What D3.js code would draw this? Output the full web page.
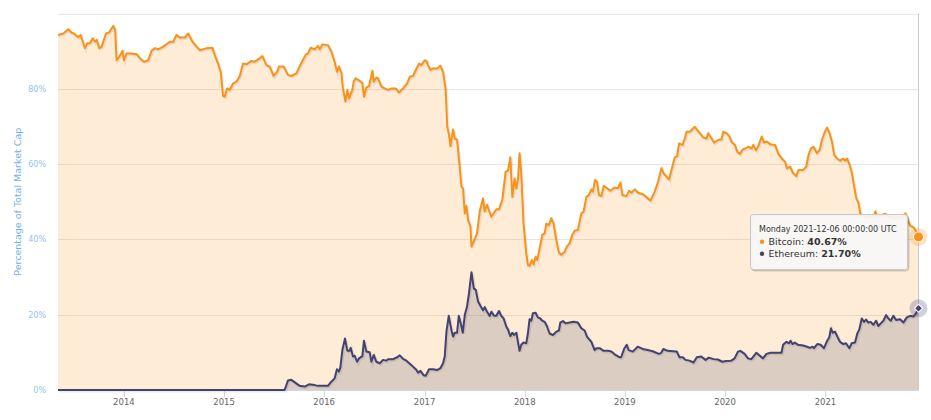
<!DOCTYPE html>
<html>
<head>
<meta charset="utf-8">
<script src="https://cdn.jsdelivr.net/npm/d3@7"></script>
<style>
  body { margin: 0; background: #fff; }
  svg { display: block; font-family: "DejaVu Sans", "Lucida Grande", sans-serif; }
</style>
</head>
<body>
<div id="chart"></div>
<script>
// market cap dominance, [decimal year, percent]
const btcShare = [[2013.342,94.3],[2013.395,94.7],[2013.445,95.8],[2013.479,94.9],[2013.501,94.7],[2013.544,93.7],[2013.568,94.3],[2013.611,90.8],[2013.634,92.1],[2013.661,92.1],[2013.688,93.4],[2013.711,92.5],[2013.728,93.0],[2013.754,90.8],[2013.778,91.2],[2013.821,94.7],[2013.853,95.0],[2013.893,96.7],[2013.913,95.6],[2013.927,87.6],[2013.953,88.5],[2013.987,90.1],[2014.000,87.6],[2014.027,89.4],[2014.077,89.4],[2014.127,89.2],[2014.160,88.1],[2014.199,87.2],[2014.242,87.5],[2014.276,90.1],[2014.309,90.8],[2014.342,90.5],[2014.392,91.2],[2014.459,92.5],[2014.492,92.5],[2014.525,94.3],[2014.558,93.6],[2014.608,93.6],[2014.641,94.7],[2014.685,92.5],[2014.725,91.2],[2014.758,90.3],[2014.791,90.5],[2014.825,90.8],[2014.884,90.9],[2014.907,89.0],[2014.940,86.7],[2014.967,84.5],[2014.990,78.1],[2015.007,77.9],[2015.030,80.1],[2015.057,79.7],[2015.090,81.4],[2015.124,81.9],[2015.157,83.4],[2015.190,86.7],[2015.223,86.5],[2015.273,87.4],[2015.306,87.2],[2015.356,88.1],[2015.383,88.7],[2015.423,86.3],[2015.456,85.9],[2015.496,83.4],[2015.529,84.5],[2015.549,85.9],[2015.595,85.9],[2015.638,83.7],[2015.672,83.4],[2015.722,84.1],[2015.772,86.9],[2015.815,89.0],[2015.838,89.4],[2015.865,90.9],[2015.905,90.5],[2015.938,91.4],[2015.955,90.5],[2015.981,91.8],[2016.037,91.6],[2016.071,89.9],[2016.104,87.2],[2016.127,84.5],[2016.147,85.9],[2016.171,84.3],[2016.187,80.1],[2016.211,76.6],[2016.231,79.7],[2016.247,77.4],[2016.280,79.7],[2016.294,81.9],[2016.313,82.8],[2016.353,82.1],[2016.380,81.6],[2016.396,77.9],[2016.420,80.4],[2016.446,80.7],[2016.480,84.8],[2016.493,81.9],[2016.520,83.0],[2016.536,82.8],[2016.570,80.6],[2016.602,80.1],[2016.636,79.7],[2016.670,80.1],[2016.712,80.1],[2016.745,79.0],[2016.785,80.1],[2016.825,81.4],[2016.852,83.2],[2016.885,83.4],[2016.919,85.4],[2016.945,86.7],[2016.968,86.3],[2017.001,87.6],[2017.018,87.4],[2017.034,86.3],[2017.058,85.0],[2017.084,85.4],[2017.124,85.4],[2017.158,86.1],[2017.184,84.5],[2017.211,79.7],[2017.226,70.0],[2017.244,67.7],[2017.258,64.8],[2017.284,69.2],[2017.301,66.8],[2017.324,66.5],[2017.344,61.1],[2017.368,54.0],[2017.384,53.5],[2017.401,46.9],[2017.418,48.9],[2017.434,45.2],[2017.458,43.4],[2017.468,38.1],[2017.491,39.5],[2017.523,41.6],[2017.550,47.4],[2017.583,50.9],[2017.600,47.4],[2017.623,49.2],[2017.667,46.0],[2017.716,48.0],[2017.742,48.0],[2017.776,50.5],[2017.809,58.0],[2017.832,58.2],[2017.856,61.8],[2017.876,51.3],[2017.899,56.2],[2017.916,53.5],[2017.932,55.8],[2017.948,62.9],[2017.965,57.5],[2017.988,44.2],[2018.015,36.3],[2018.031,33.2],[2018.048,33.0],[2018.071,34.5],[2018.088,33.4],[2018.108,35.4],[2018.125,34.5],[2018.141,36.7],[2018.175,41.2],[2018.198,41.6],[2018.215,44.2],[2018.241,43.8],[2018.265,45.6],[2018.288,44.2],[2018.315,39.8],[2018.341,36.5],[2018.365,35.9],[2018.398,36.7],[2018.421,38.1],[2018.448,39.0],[2018.475,41.2],[2018.498,42.3],[2018.531,42.5],[2018.565,46.9],[2018.588,47.4],[2018.615,51.3],[2018.641,51.8],[2018.665,53.3],[2018.681,52.7],[2018.701,55.8],[2018.721,55.3],[2018.741,51.8],[2018.765,51.5],[2018.788,54.2],[2018.821,53.6],[2018.855,52.9],[2018.898,53.8],[2018.931,53.6],[2018.955,55.1],[2018.975,51.8],[2019.015,51.5],[2019.041,52.9],[2019.065,52.4],[2019.098,53.3],[2019.131,52.4],[2019.181,52.0],[2019.215,51.2],[2019.255,50.3],[2019.298,52.7],[2019.331,55.3],[2019.365,58.9],[2019.388,57.5],[2019.415,56.7],[2019.441,55.9],[2019.465,58.4],[2019.498,61.8],[2019.521,62.1],[2019.541,65.5],[2019.575,65.1],[2019.598,66.8],[2019.615,68.6],[2019.648,68.6],[2019.681,69.5],[2019.698,69.9],[2019.721,69.1],[2019.748,68.2],[2019.781,67.1],[2019.815,66.8],[2019.831,68.2],[2019.865,66.8],[2019.891,65.7],[2019.931,66.4],[2019.965,66.6],[2019.981,68.6],[2020.015,68.2],[2020.041,67.5],[2020.065,65.9],[2020.098,65.1],[2020.121,63.3],[2020.148,62.7],[2020.175,63.9],[2020.208,64.2],[2020.231,64.6],[2020.265,64.2],[2020.281,65.1],[2020.308,63.7],[2020.331,64.8],[2020.365,67.3],[2020.388,65.7],[2020.415,66.0],[2020.448,65.3],[2020.498,65.1],[2020.531,62.7],[2020.565,61.5],[2020.598,60.6],[2020.615,58.9],[2020.648,59.3],[2020.675,57.7],[2020.708,56.8],[2020.731,58.4],[2020.775,58.4],[2020.808,59.3],[2020.831,62.4],[2020.855,64.2],[2020.881,64.6],[2020.915,62.9],[2020.941,63.7],[2020.965,66.4],[2020.988,68.2],[2021.015,69.7],[2021.041,68.2],[2021.065,65.9],[2021.088,62.4],[2021.115,61.5],[2021.148,60.9],[2021.175,61.5],[2021.198,60.9],[2021.215,61.5],[2021.241,59.8],[2021.265,57.5],[2021.281,54.9],[2021.308,50.9],[2021.331,49.6],[2021.348,46.9],[2021.365,46.5],[2021.398,46.0],[2021.431,46.2],[2021.481,45.8],[2021.498,47.4],[2021.521,46.0],[2021.565,46.5],[2021.598,46.8],[2021.631,46.0],[2021.665,45.8],[2021.715,45.8],[2021.765,46.0],[2021.798,46.9],[2021.821,45.2],[2021.848,43.6],[2021.875,43.3],[2021.898,42.5],[2021.929,40.67]];

const ethShare = [[2013.342,0],[2015.605,0],[2015.638,2.5],[2015.672,2.7],[2015.755,1.1],[2015.805,0.9],[2015.848,1.5],[2015.905,1.3],[2015.938,1.1],[2016.037,1.1],[2016.071,2.2],[2016.104,3.1],[2016.127,5.5],[2016.147,4.9],[2016.161,6.0],[2016.181,10.6],[2016.207,13.7],[2016.231,10.4],[2016.254,10.4],[2016.264,11.2],[2016.287,8.9],[2016.304,9.1],[2016.327,7.5],[2016.347,8.4],[2016.380,9.0],[2016.396,13.1],[2016.420,10.2],[2016.453,10.0],[2016.470,7.5],[2016.493,9.3],[2016.520,7.5],[2016.553,7.1],[2016.586,8.0],[2016.620,7.8],[2016.636,8.2],[2016.686,8.2],[2016.726,8.7],[2016.752,9.2],[2016.785,8.3],[2016.819,7.8],[2016.869,6.6],[2016.919,5.3],[2016.935,4.6],[2016.958,5.1],[2016.991,3.9],[2017.011,3.8],[2017.044,5.5],[2017.084,5.5],[2017.124,5.3],[2017.158,5.8],[2017.184,7.1],[2017.201,8.9],[2017.218,15.5],[2017.241,19.7],[2017.268,15.9],[2017.284,14.2],[2017.301,15.2],[2017.324,15.2],[2017.341,19.7],[2017.361,17.7],[2017.381,15.2],[2017.401,19.9],[2017.423,22.1],[2017.443,25.7],[2017.468,31.3],[2017.491,27.0],[2017.511,26.6],[2017.534,23.5],[2017.558,22.3],[2017.583,21.2],[2017.600,22.0],[2017.623,20.8],[2017.650,19.7],[2017.667,20.8],[2017.693,19.7],[2017.716,19.7],[2017.742,21.0],[2017.766,19.7],[2017.789,19.0],[2017.816,16.8],[2017.832,16.1],[2017.856,14.3],[2017.876,15.2],[2017.892,14.6],[2017.916,15.2],[2017.932,12.8],[2017.948,10.4],[2017.965,12.0],[2017.988,12.6],[2018.015,12.4],[2018.031,15.0],[2018.048,18.8],[2018.065,18.4],[2018.081,20.4],[2018.108,20.5],[2018.131,19.3],[2018.155,19.0],[2018.175,18.4],[2018.198,18.1],[2018.221,17.0],[2018.248,15.0],[2018.281,14.6],[2018.315,15.5],[2018.341,15.8],[2018.355,17.9],[2018.381,18.3],[2018.407,17.7],[2018.447,17.9],[2018.487,18.1],[2018.530,17.9],[2018.565,16.4],[2018.598,15.8],[2018.621,14.2],[2018.665,12.8],[2018.698,10.6],[2018.715,11.1],[2018.748,11.1],[2018.788,10.4],[2018.831,10.4],[2018.865,10.2],[2018.905,9.3],[2018.945,8.7],[2018.962,8.7],[2018.995,11.1],[2019.018,12.0],[2019.038,10.6],[2019.078,10.2],[2019.128,11.5],[2019.178,10.9],[2019.228,10.6],[2019.278,10.3],[2019.338,9.6],[2019.361,9.8],[2019.384,10.9],[2019.427,10.4],[2019.478,10.3],[2019.518,10.2],[2019.545,8.7],[2019.578,8.7],[2019.605,8.0],[2019.645,7.8],[2019.685,7.3],[2019.718,8.7],[2019.762,8.9],[2019.805,8.0],[2019.838,8.6],[2019.885,8.2],[2019.928,8.1],[2019.972,7.5],[2020.012,7.7],[2020.062,7.8],[2020.095,8.4],[2020.128,10.2],[2020.152,10.4],[2020.195,9.6],[2020.228,8.4],[2020.262,8.2],[2020.285,9.0],[2020.312,9.9],[2020.338,9.3],[2020.378,8.4],[2020.412,9.6],[2020.452,9.9],[2020.512,9.9],[2020.562,9.9],[2020.578,12.0],[2020.612,12.8],[2020.638,12.4],[2020.652,13.1],[2020.672,12.2],[2020.695,12.6],[2020.728,12.0],[2020.778,11.8],[2020.818,11.5],[2020.845,11.2],[2020.872,11.5],[2020.885,11.1],[2020.918,12.2],[2020.952,12.0],[2020.985,11.1],[2021.012,12.8],[2021.038,14.0],[2021.055,16.4],[2021.072,15.2],[2021.095,15.5],[2021.118,14.2],[2021.145,12.8],[2021.178,12.2],[2021.205,12.4],[2021.238,11.1],[2021.262,12.4],[2021.295,12.6],[2021.318,15.0],[2021.338,16.1],[2021.362,19.0],[2021.385,18.1],[2021.405,18.7],[2021.428,17.9],[2021.452,18.1],[2021.478,17.3],[2021.505,18.4],[2021.528,17.0],[2021.552,17.7],[2021.578,18.4],[2021.605,19.9],[2021.628,19.0],[2021.652,18.4],[2021.678,19.7],[2021.705,18.6],[2021.745,18.8],[2021.778,17.9],[2021.812,19.3],[2021.845,19.7],[2021.878,19.5],[2021.905,20.4],[2021.929,21.70]];

const yearTicks = [2014, 2015, 2016, 2017, 2018, 2019, 2020, 2021];
const gridValues = [0, 20, 40, 60, 80, 100];
const labelValues = [0, 20, 40, 60, 80];
const seriesNames = ["Bitcoin", "Ethereum"];
const seriesColors = ["#f7931a", "#434371"];
const tooltipHeader = "Monday 2021-12-06 00:00:00 UTC";

const width = 931, height = 420;
const plotLeft = 58, plotRight = 918.5, plotTop = 13.5, plotBottom = 390;

// decimal year -> Date (UTC)
function toDate(t) {
    const yr = Math.floor(t);
    const a = Date.UTC(yr, 0, 1), b = Date.UTC(yr + 1, 0, 1);
    return new Date(a + (t - yr) * (b - a));
}

const svg = d3.select("#chart").append("svg")
    .attr("width", width)
    .attr("height", height);

const x = d3.scaleUtc()
    .domain(d3.extent(btcShare, d => toDate(d[0])))
    .range([plotLeft, plotRight]);
const y = d3.scaleLinear().domain([0, 100]).range([plotBottom, plotTop]);

// grid lines
svg.append("g")
    .selectAll("line")
    .data(gridValues)
    .join("line")
    .attr("x1", plotLeft)
    .attr("x2", plotRight)
    .attr("y1", d => Math.round(y(d)) + 0.5)
    .attr("y2", d => Math.round(y(d)) + 0.5)
    .attr("stroke", "#e6e6e6")
    .attr("stroke-width", 1);

// y labels
svg.append("g")
    .selectAll("text")
    .data(labelValues)
    .join("text")
    .attr("x", 46)
    .attr("y", d => y(d))
    .attr("dy", "0.35em")
    .attr("text-anchor", "end")
    .attr("fill", "#93c2f0")
    .style("font-size", "8px")
    .text(d => d + "%");

svg.append("text")
    .attr("transform", `translate(21, ${(plotTop + plotBottom) / 2}) rotate(-90)`)
    .attr("text-anchor", "middle")
    .attr("fill", "#72b0ea")
    .style("font-size", "9.5px")
    .text("Percentage of Total Market Cap");

const series = [btcShare, ethShare];

const area = d3.area()
    .x(d => x(toDate(d[0])))
    .y0(y(0))
    .y1(d => y(d[1]));
const line = d3.line()
    .x(d => x(toDate(d[0])))
    .y(d => y(d[1]));

series.forEach((s, i) => {
    svg.append("path")
        .datum(s)
        .attr("d", area)
        .attr("fill", seriesColors[i])
        .attr("fill-opacity", 0.18);
});

// x axis
const xAxis = svg.append("g")
    .attr("transform", `translate(0, ${plotBottom})`);
xAxis.append("line")
    .attr("x1", plotLeft).attr("x2", plotRight)
    .attr("y1", 0.5).attr("y2", 0.5)
    .attr("stroke", "#ccd6eb");
xAxis.selectAll(".tick")
    .data(yearTicks)
    .join("line")
    .attr("class", "tick")
    .attr("x1", d => Math.round(x(toDate(d))) + 0.5)
    .attr("x2", d => Math.round(x(toDate(d))) + 0.5)
    .attr("y1", 0)
    .attr("y2", 7)
    .attr("stroke", "#ccd6eb");
xAxis.selectAll(".label")
    .data(yearTicks)
    .join("text")
    .attr("class", "label")
    .attr("x", d => x(toDate(d)))
    .attr("y", 15)
    .attr("text-anchor", "middle")
    .attr("fill", "#666")
    .style("font-size", "8.5px")
    .text(d => d);

// crosshair at last point
const last = toDate(btcShare[btcShare.length - 1][0]);
svg.append("line")
    .attr("x1", x(last)).attr("x2", x(last))
    .attr("y1", plotTop).attr("y2", plotBottom)
    .attr("stroke", "#cccccc")
    .attr("stroke-width", 1);

series.forEach((s, i) => {
    svg.append("path")
        .datum(s)
        .attr("d", line)
        .attr("transform", "translate(1,1)")
        .attr("fill", "none")
        .attr("stroke", "#000")
        .attr("stroke-opacity", 0.08)
        .attr("stroke-width", 3);
    svg.append("path")
        .datum(s)
        .attr("d", line)
        .attr("fill", "none")
        .attr("stroke", seriesColors[i])
        .attr("stroke-width", 2)
        .attr("stroke-linejoin", "round");
});

// hover markers on last point
const btcLast = btcShare[btcShare.length - 1];
const ethLast = ethShare[ethShare.length - 1];
const bx = x(toDate(btcLast[0])), by = y(btcLast[1]);
const ex = x(toDate(ethLast[0])), ey = y(ethLast[1]);

svg.append("circle").attr("cx", bx).attr("cy", by).attr("r", 9)
    .attr("fill", seriesColors[0]).attr("fill-opacity", 0.25);
svg.append("circle").attr("cx", bx).attr("cy", by).attr("r", 5)
    .attr("fill", seriesColors[0]).attr("stroke", "#fff").attr("stroke-width", 1);

svg.append("circle").attr("cx", ex).attr("cy", ey).attr("r", 9)
    .attr("fill", seriesColors[1]).attr("fill-opacity", 0.25);
svg.append("path")
    .attr("d", d3.symbol(d3.symbolSquare, 32)())
    .attr("transform", `translate(${ex},${ey}) rotate(45)`)
    .attr("fill", seriesColors[1]).attr("stroke", "#fff").attr("stroke-width", 1);

// tooltip
const tip = svg.append("g").attr("transform", "translate(750.5, 214.5)");
[3, 2, 1].forEach(k => {
    tip.append("rect")
        .attr("x", k * 0.5).attr("y", k * 0.5)
        .attr("width", 157).attr("height", 55).attr("rx", 3)
        .attr("fill", "none")
        .attr("stroke", "#000")
        .attr("stroke-opacity", 0.05 * k)
        .attr("stroke-width", 1);
});
tip.append("rect")
    .attr("width", 157).attr("height", 55).attr("rx", 3)
    .attr("fill", "#f7f7f7")
    .attr("fill-opacity", 0.92)
    .attr("stroke", "#c8c8c8");
tip.append("text")
    .attr("x", 8.5).attr("y", 17)
    .attr("fill", "#333")
    .style("font-size", "8px")
    .text(tooltipHeader);

const rows = [btcLast[1], ethLast[1]];
rows.forEach((v, i) => {
    const ty = 30.5 + i * 12;
    tip.append("circle")
        .attr("cx", 11.5).attr("cy", ty - 3.2).attr("r", 2.2)
        .attr("fill", seriesColors[i]);
    const t = tip.append("text")
        .attr("x", 18).attr("y", ty)
        .attr("fill", "#333")
        .style("font-size", "9.5px");
    t.append("tspan").text(seriesNames[i] + ": ");
    t.append("tspan").attr("font-weight", "bold").text(d3.format(".2f")(v) + "%");
});
</script>
</body>
</html>
